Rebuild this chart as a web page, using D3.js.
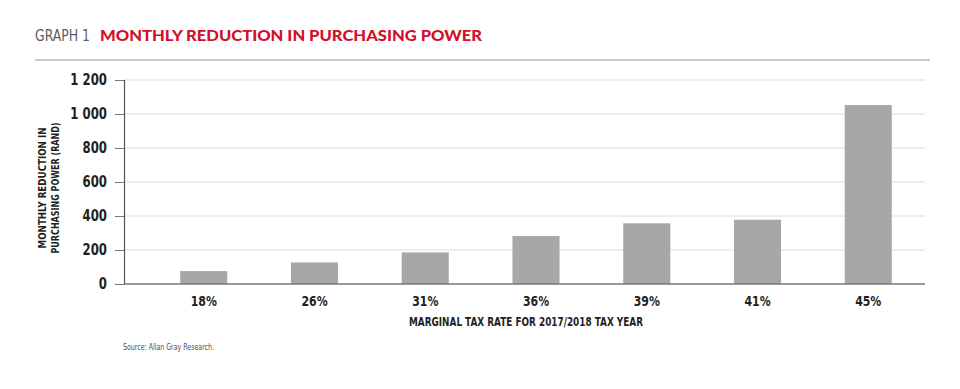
<!DOCTYPE html>
<html>
<head>
<meta charset="utf-8">
<script src="https://cdn.jsdelivr.net/npm/d3@7"></script>
<style>
  body { margin: 0; background: #fff; }
  .cond { font-family: "DejaVu Sans", sans-serif; }
</style>
</head>
<body>
<svg></svg>
<script>
const rates = ["18%", "26%", "31%", "36%", "39%", "41%", "45%"];
const reduction = [76, 127, 186, 282, 357, 378, 1053];
const yTicks = [0, 200, 400, 600, 800, 1000, 1200];

const width = 960;
const height = 389;
const plotLeft = 124, plotRight = 925, plotTop = 80, plotBottom = 284;

const svg = d3.select("svg").attr("width", width).attr("height", height);

// squeeze text horizontally to fake the narrow typeface of the original
function condense(sel, factor) {
  sel.each(function () {
    const len = this.getComputedTextLength();
    d3.select(this)
      .attr("textLength", len * factor)
      .attr("lengthAdjust", "spacingAndGlyphs");
  });
}

// header
svg.append("text")
  .attr("class", "cond")
  .attr("x", 35).attr("y", 41)
  .attr("textLength", 55).attr("lengthAdjust", "spacingAndGlyphs")
  .style("font-size", "16px").style("fill", "#5b5d60")
  .text("GRAPH 1");

svg.append("text")
  .attr("x", 100).attr("y", 41)
  .attr("textLength", 382).attr("lengthAdjust", "spacingAndGlyphs")
  .style("font-family", "Lato").style("font-weight", 900)
  .style("font-size", "15px").style("fill", "#d0112b")
  .text("MONTHLY REDUCTION IN PURCHASING POWER");

svg.append("line")
  .attr("x1", 35).attr("x2", 930).attr("y1", 60).attr("y2", 60)
  .attr("stroke", "#c8c8c8").attr("stroke-width", 2);

const x = d3.scaleBand()
  .domain(rates)
  .range([147, plotRight])
  .paddingInner(0.575)
  .paddingOuter(0.3);

const y = d3.scaleLinear()
  .domain([0, 1200])
  .range([plotBottom, plotTop]);

// gridlines
svg.append("g")
  .selectAll("line")
  .data(yTicks.filter(d => d > 0))
  .enter()
  .append("line")
  .attr("x1", plotLeft).attr("x2", plotRight)
  .attr("y1", d => y(d)).attr("y2", d => y(d))
  .attr("stroke", "#dcdcdc").attr("stroke-width", 1);

// bars
svg.selectAll("rect.bar")
  .data(rates)
  .enter()
  .append("rect")
  .attr("class", "bar")
  .attr("x", d => x(d))
  .attr("y", (d, i) => y(reduction[i]))
  .attr("width", x.bandwidth())
  .attr("height", (d, i) => plotBottom - y(reduction[i]))
  .attr("fill", "#a6a7a9");

// y axis
const yAxis = d3.axisLeft(y)
  .tickValues(yTicks)
  .tickSize(9)
  .tickPadding(8)
  .tickFormat(d => d3.format(",")(d).replace(",", " "));

const gy = svg.append("g")
  .attr("transform", `translate(${plotLeft},0)`)
  .call(yAxis);
gy.select(".domain").attr("stroke", "#555").attr("stroke-width", 1.2);
gy.selectAll(".tick line").attr("stroke", "#777");
gy.selectAll(".tick text")
  .attr("class", "cond")
  .style("font-size", "15px").style("font-weight", "bold").style("fill", "#231f20")
  .call(condense, 0.78);

// baseline
svg.append("line")
  .attr("x1", plotLeft).attr("x2", plotRight)
  .attr("y1", plotBottom).attr("y2", plotBottom)
  .attr("stroke", "#777").attr("stroke-width", 1.5);

// x labels
const xAxis = d3.axisBottom(x).tickSize(0).tickPadding(12);
const gx = svg.append("g")
  .attr("transform", `translate(0,${plotBottom})`)
  .call(xAxis);
gx.select(".domain").remove();
gx.selectAll(".tick text")
  .attr("class", "cond")
  .style("font-size", "14px").style("font-weight", "bold").style("fill", "#231f20")
  .call(condense, 0.78);

// axis titles
svg.append("text")
  .attr("class", "cond")
  .attr("x", 526).attr("y", 326)
  .attr("text-anchor", "middle")
  .attr("textLength", 234).attr("lengthAdjust", "spacingAndGlyphs")
  .style("font-size", "12px").style("font-weight", 600).style("fill", "#231f20")
  .text("MARGINAL TAX RATE FOR 2017/2018 TAX YEAR");

const yTitle = svg.append("text")
  .attr("class", "cond")
  .attr("transform", "translate(46,188) rotate(-90)")
  .attr("text-anchor", "middle")
  .style("font-size", "11px").style("font-weight", "bold").style("fill", "#231f20");
yTitle.append("tspan").attr("x", 0).attr("y", 0)
  .attr("textLength", 121).attr("lengthAdjust", "spacingAndGlyphs")
  .text("MONTHLY REDUCTION IN");
yTitle.append("tspan").attr("x", 0).attr("y", 13)
  .attr("textLength", 131).attr("lengthAdjust", "spacingAndGlyphs")
  .text("PURCHASING POWER (RAND)");

// source
svg.append("text")
  .attr("class", "cond")
  .attr("x", 123).attr("y", 350)
  .attr("textLength", 91).attr("lengthAdjust", "spacingAndGlyphs")
  .style("font-size", "9px").style("fill", "#4d4d4f")
  .text("Source: Allan Gray Research.");
</script>
</body>
</html>
